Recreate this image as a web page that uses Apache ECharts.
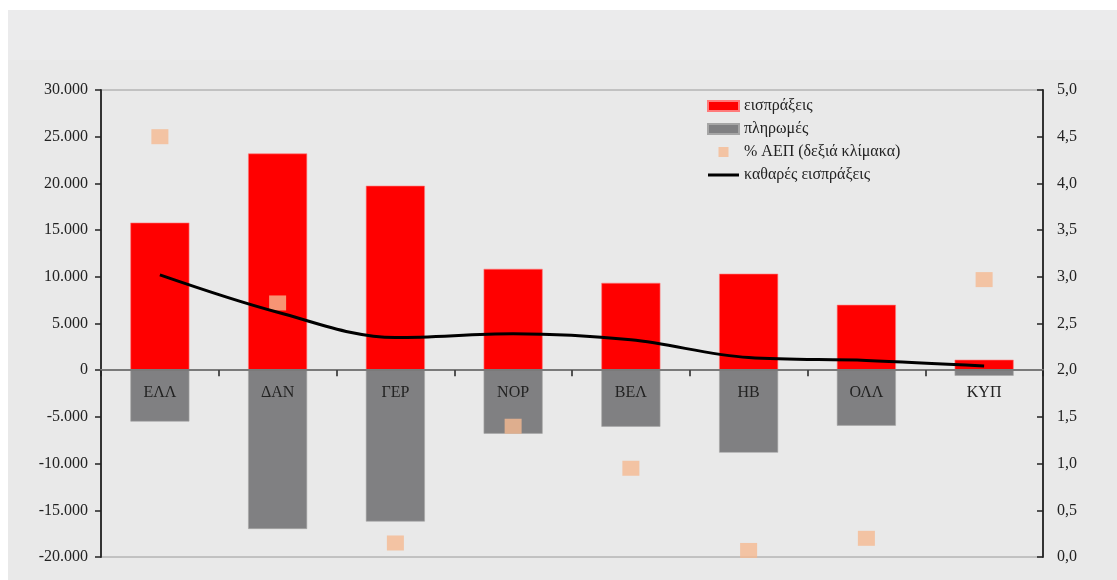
<!DOCTYPE html>
<html>
<head>
<meta charset="utf-8">
<script src="https://cdn.jsdelivr.net/npm/echarts@6/dist/echarts.min.js"></script>
<style>
  html, body { margin: 0; padding: 0; background: #ffffff; }
  #panel { position: absolute; left: 8px; top: 10px; width: 1109px; height: 570px; }
</style>
</head>
<body>
<div id="panel"></div>
<script>
// Countries (abbreviated)
const categories = ['ΕΛΛ', 'ΔΑΝ', 'ΓΕΡ', 'ΝΟΡ', 'ΒΕΛ', 'ΗΒ', 'ΟΛΛ', 'ΚΥΠ'];
// Receipts (left scale)
const receipts = [15800, 23200, 19750, 10850, 9350, 10330, 7000, 1120];
// Payments (left scale)
const payments = [-5500, -17000, -16200, -6800, -6050, -8830, -5940, -600];
// Net receipts (left scale)
const netReceipts = [10200, 6200, 3500, 3900, 3250, 1350, 1050, 450];
// Share of GDP, % (right scale)
const gdpShare = [4.5, 2.72, 0.15, 1.4, 0.95, 0.07, 0.2, 2.97];

const leftTicks = { min: -20000, max: 30000, interval: 5000 };
const rightTicks = { min: 0, max: 5, interval: 0.5 };

const serif = '"Liberation Serif", "DejaVu Serif", serif';
const txt = '#222222';
const fs = 16;

const gridTop = 80, gridBottom = 23, panelHeight = 570;
const gridHeight = panelHeight - gridTop - gridBottom;
// distance of the zero line above the bottom edge of the plot
const zeroLift = gridHeight * (0 - leftTicks.min) / (leftTicks.max - leftTicks.min);

function thousands(v) {
  const s = Math.abs(v).toString().replace(/\B(?=(\d{3})+(?!\d))/g, '.');
  return (v < 0 ? '-' : '') + s;
}

const chart = echarts.init(document.getElementById('panel'), null, { renderer: 'canvas' });
chart.setOption({
  backgroundColor: '#e9e9e9',
  animation: false,
  graphic: [{
    type: 'rect', z: -10, silent: true,
    shape: { x: 0, y: 0, width: 1109, height: 50 },
    style: { fill: '#ebebec' }
  }],
  legend: {
    orient: 'vertical',
    left: 694, top: 83,
    itemWidth: 31, itemHeight: 10, itemGap: 7,
    textStyle: { fontFamily: serif, fontSize: fs, color: txt },
    data: [
      { name: 'εισπράξεις', icon: 'rect' },
      { name: 'πληρωμές', icon: 'rect' },
      { name: '% ΑΕΠ (δεξιά κλίμακα)', icon: 'path://M0,0h12v12h-12z' },
      { name: 'καθαρές εισπράξεις', icon: 'path://M0,0h31v3h-31z' }
    ]
  },
  grid: {
    left: 93, right: 74, top: gridTop, bottom: gridBottom,
    outerBoundsMode: 'none',
    show: true, borderColor: '#9a9a9a', borderWidth: 1, backgroundColor: 'transparent'
  },
  xAxis: {
    type: 'category',
    data: categories,
    position: 'bottom',
    offset: -zeroLift,
    z: 5,
    axisLine: { onZero: false, lineStyle: { color: '#7a7a7a', width: 2 } },
    axisTick: { show: true, alignWithLabel: false, length: 6, lineStyle: { color: '#222', width: 1.5 } },
    axisLabel: { fontFamily: serif, fontSize: fs, color: txt, margin: 15 }
  },
  yAxis: [
    {
      type: 'value', position: 'left',
      min: leftTicks.min, max: leftTicks.max, interval: leftTicks.interval,
      splitLine: { show: false },
      axisLine: { show: true, onZero: false, lineStyle: { color: '#333', width: 2 } },
      axisTick: { show: true, length: 6, lineStyle: { color: '#222', width: 1.5 } },
      axisLabel: { fontFamily: serif, fontSize: fs, color: txt, margin: 13, formatter: thousands }
    },
    {
      type: 'value', position: 'right',
      min: rightTicks.min, max: rightTicks.max, interval: rightTicks.interval,
      splitLine: { show: false },
      axisLine: { show: true, onZero: false, lineStyle: { color: '#333', width: 2 } },
      axisTick: { show: true, inside: true, length: 6, lineStyle: { color: '#222', width: 1.5 } },
      axisLabel: { fontFamily: serif, fontSize: fs, color: txt, margin: 14,
        formatter: v => v.toFixed(1).replace('.', ',') }
    }
  ],
  series: [
    {
      name: 'εισπράξεις', type: 'bar', data: receipts,
      barWidth: 59, barGap: '-100%',
      itemStyle: { color: '#ff0000', borderColor: '#ff7a7a', borderWidth: 0.6 }
    },
    {
      name: 'πληρωμές', type: 'bar', data: payments,
      barWidth: 59,
      itemStyle: { color: '#808082', borderColor: '#a6a6a6', borderWidth: 0.6 }
    },
    {
      name: '% ΑΕΠ (δεξιά κλίμακα)', type: 'scatter', yAxisIndex: 1, data: gdpShare,
      symbol: 'rect', symbolSize: [17, 15], z: 4,
      itemStyle: { color: '#f5b991' }
    },
    {
      name: 'καθαρές εισπράξεις', type: 'line', data: netReceipts,
      smooth: 0.35, symbol: 'none', z: 6,
      lineStyle: { color: '#000000', width: 3 },
      itemStyle: { color: '#000000' }
    }
  ]
});
</script>
</body>
</html>
